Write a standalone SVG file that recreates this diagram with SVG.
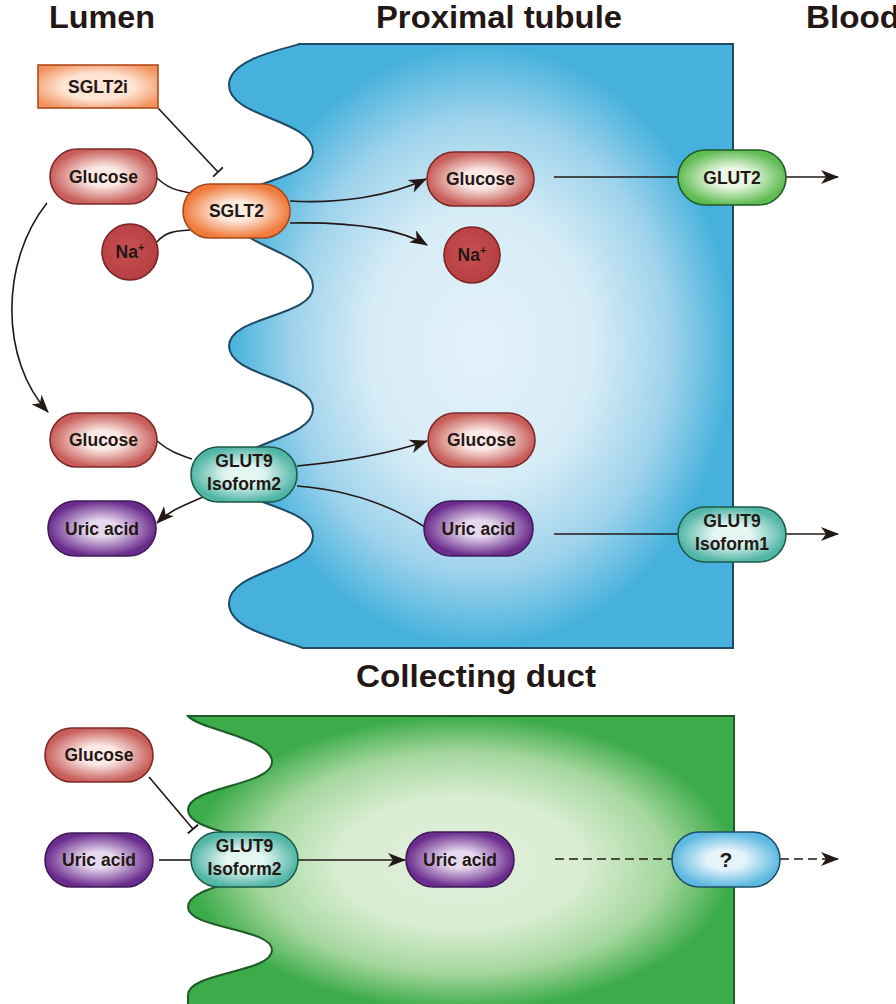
<svg xmlns="http://www.w3.org/2000/svg" width="896" height="1004" viewBox="0 0 896 1004">
<defs>
<style>
.t{font-family:"Liberation Sans",Arial,sans-serif;font-weight:bold;fill:#231815;text-anchor:middle}
.title{font-size:32px}
.lbl{font-size:17.5px}
.ln{fill:none;stroke:#231815;stroke-width:1.6}
.ar{marker-end:url(#ah)}
.tee{marker-end:url(#tb)}
.dash{stroke-dasharray:9 5}
.cell{stroke-width:2}
</style>
<radialGradient id="gBlue" cx="0.5" cy="0.5" r="0.5">
<stop offset="0" stop-color="#e3f1f9"/><stop offset="0.45" stop-color="#d6ecf6"/><stop offset="0.75" stop-color="#9fd3ec"/><stop offset="1" stop-color="#45b1dc"/>
</radialGradient>
<radialGradient id="gGreen" cx="0.5" cy="0.5" r="0.5">
<stop offset="0" stop-color="#e0f0db"/><stop offset="0.45" stop-color="#d8edd1"/><stop offset="0.75" stop-color="#a5d79e"/><stop offset="1" stop-color="#3cab49"/>
</radialGradient>
<radialGradient id="pGlu" cx="0.5" cy="0.5" r="0.5"><stop offset="0.35" stop-color="#fbe9e5"/><stop offset="1" stop-color="#c85e5a"/></radialGradient>
<radialGradient id="pSg" cx="0.5" cy="0.5" r="0.5"><stop offset="0.35" stop-color="#fdeadf"/><stop offset="1" stop-color="#ef7a3a"/></radialGradient>
<radialGradient id="pSgi" cx="0.5" cy="0.5" r="0.6"><stop offset="0.5" stop-color="#fde4d4"/><stop offset="1" stop-color="#f2935d"/></radialGradient>
<radialGradient id="pG9" cx="0.5" cy="0.5" r="0.5"><stop offset="0.35" stop-color="#e4f6f2"/><stop offset="1" stop-color="#52b6a6"/></radialGradient>
<radialGradient id="pG2" cx="0.5" cy="0.5" r="0.5"><stop offset="0.35" stop-color="#ebf7e4"/><stop offset="1" stop-color="#5fbb52"/></radialGradient>
<radialGradient id="pUa" cx="0.5" cy="0.5" r="0.5"><stop offset="0.3" stop-color="#e6d8ee"/><stop offset="1" stop-color="#6b2c8d"/></radialGradient>
<radialGradient id="pQ" cx="0.5" cy="0.5" r="0.5"><stop offset="0.35" stop-color="#e5f3fa"/><stop offset="1" stop-color="#5db9e1"/></radialGradient>
<radialGradient id="pNa" cx="0.45" cy="0.45" r="0.55"><stop offset="0" stop-color="#c85052"/><stop offset="1" stop-color="#b63f42"/></radialGradient>
<marker id="ah" viewBox="0 0 18 14" refX="17" refY="7" markerWidth="18" markerHeight="14" markerUnits="userSpaceOnUse" orient="auto">
<path d="M0,0 L18,7 L0,14 L5,7 Z" fill="#231815"/>
</marker>
<marker id="tb" viewBox="0 0 4 14" refX="2" refY="7" markerWidth="4" markerHeight="14" markerUnits="userSpaceOnUse" orient="auto">
<path d="M2,0 L2,14" stroke="#231815" stroke-width="1.8"/>
</marker>
</defs>
<rect width="896" height="1004" fill="#ffffff"/>

<g id="titles">
<text class="t title" x="102" y="28" textLength="106" lengthAdjust="spacingAndGlyphs">Lumen</text>
<text class="t title" x="499" y="28" textLength="246" lengthAdjust="spacingAndGlyphs">Proximal tubule</text>
<text class="t title" x="853" y="28" textLength="94" lengthAdjust="spacingAndGlyphs">Blood</text>
<text class="t title" x="476" y="687" textLength="240" lengthAdjust="spacingAndGlyphs">Collecting duct</text>
</g>

<g id="proximal-tubule-cell">
<path class="cell" fill="url(#gBlue)" stroke="#1f4a62" d="M300,44 L733,44 L733,648 L303,648 C270,636 229,628 229,603 C229,570 313,569 313,536 C313,505 229,505 229,474 C229,442 313,441 313,409 C313,378 229,377 229,346 C229,316 313,317 313,287 C313,249 229,248 229,210 C229,181 313,181 313,152 C313,119 229,118 229,85 C229,62 270,52 300,44 Z"/>
</g>

<g id="collecting-duct-cell">
<path class="cell" fill="url(#gGreen)" stroke="#1f5a2a" d="M188,716 L734,716 L734,1010 L188,1010 L188,995 C188,972 272,973 272,950 C272,928 188,929 188,907 C188,883 272,882 272,858 C272,834 188,834 188,810 C188,786 272,786 272,762 C272,738 200,730 188,716 Z"/>
</g>

<g id="connectors">
<path class="ln tee" d="M158,108 L218,172"/>
<path class="ln" d="M157,178 C170,190 178,190 190,193"/>
<path class="ln" d="M157,242 C165,232 175,231 190,230"/>
<path class="ln ar" d="M290,201 C340,204 390,196 426,179"/>
<path class="ln ar" d="M290,223 C340,222 395,226 427,245"/>
<path class="ln" d="M554,177 L678,177"/>
<path class="ln ar" d="M786,177 L838,177"/>
<path class="ln ar" d="M47,203 C0,262 0,360 48,412"/>
<path class="ln" d="M157,441 C170,452 180,455 192,459"/>
<path class="ln ar" d="M203,497 C185,505 170,510 157,523"/>
<path class="ln ar" d="M297,466 C340,462 385,455 427,441"/>
<path class="ln" d="M297,486 C350,490 390,505 425,527"/>
<path class="ln" d="M554,534 L678,534"/>
<path class="ln ar" d="M786,534 L838,534"/>
<path class="ln tee" d="M149,777 L193,829"/>
<path class="ln" d="M159,860 L191,860"/>
<path class="ln ar" d="M298,860 L405,860"/>
<path class="ln dash" d="M555,859 L672,859"/>
<path class="ln ar dash" d="M780,859 L838,859"/>
</g>

<g id="sglt2i">
<rect x="38" y="65" width="120" height="43" fill="url(#pSgi)" stroke="#b24a1d" stroke-width="1.6"/>
<text class="t lbl" x="98" y="93">SGLT2i</text>
</g>
<g id="glucose-lumen-1">
<rect x="50" y="149" width="107" height="55" rx="27.5" fill="url(#pGlu)" stroke="#7e2a28" stroke-width="1.6"/>
<text class="t lbl" x="103.5" y="183">Glucose</text>
</g>
<g id="sglt2">
<rect x="183" y="184" width="107" height="54" rx="27" fill="url(#pSg)" stroke="#a8481e" stroke-width="1.6"/>
<text class="t lbl" x="236.5" y="217">SGLT2</text>
</g>
<g id="na-lumen">
<circle cx="130" cy="252" r="28" fill="url(#pNa)" stroke="#7a2224" stroke-width="1.6"/>
<text class="t lbl" x="130" y="258">Na<tspan font-size="11" dy="-7">+</tspan></text>
</g>
<g id="glucose-cell-1">
<rect x="427" y="152" width="107" height="54" rx="27" fill="url(#pGlu)" stroke="#7e2a28" stroke-width="1.6"/>
<text class="t lbl" x="480.5" y="185">Glucose</text>
</g>
<g id="na-cell">
<circle cx="472" cy="255" r="28" fill="url(#pNa)" stroke="#7a2224" stroke-width="1.6"/>
<text class="t lbl" x="472" y="261">Na<tspan font-size="11" dy="-7">+</tspan></text>
</g>
<g id="glut2">
<rect x="678" y="150" width="108" height="55" rx="27.5" fill="url(#pG2)" stroke="#1f5a27" stroke-width="1.6"/>
<text class="t lbl" x="732" y="184">GLUT2</text>
</g>
<g id="glucose-lumen-2">
<rect x="50" y="413" width="107" height="54" rx="27" fill="url(#pGlu)" stroke="#7e2a28" stroke-width="1.6"/>
<text class="t lbl" x="103.5" y="446">Glucose</text>
</g>
<g id="glut9-isoform2-pt">
<rect x="191" y="447" width="106" height="55" rx="27.5" fill="url(#pG9)" stroke="#1c5a47" stroke-width="1.6"/>
<text class="t lbl" x="244" y="467">GLUT9</text>
<text class="t lbl" x="244" y="490">Isoform2</text>
</g>
<g id="uric-acid-lumen">
<rect x="48" y="501" width="108" height="55" rx="27.5" fill="url(#pUa)" stroke="#3f1b57" stroke-width="1.6"/>
<text class="t lbl" x="102" y="535">Uric acid</text>
</g>
<g id="glucose-cell-2">
<rect x="428" y="413" width="107" height="54" rx="27" fill="url(#pGlu)" stroke="#7e2a28" stroke-width="1.6"/>
<text class="t lbl" x="481.5" y="446">Glucose</text>
</g>
<g id="uric-acid-cell">
<rect x="424" y="501" width="109" height="55" rx="27.5" fill="url(#pUa)" stroke="#3f1b57" stroke-width="1.6"/>
<text class="t lbl" x="478.5" y="535">Uric acid</text>
</g>
<g id="glut9-isoform1">
<rect x="678" y="507" width="108" height="55" rx="27.5" fill="url(#pG9)" stroke="#1c5a47" stroke-width="1.6"/>
<text class="t lbl" x="732" y="527">GLUT9</text>
<text class="t lbl" x="732" y="550">Isoform1</text>
</g>

<g id="glucose-cd">
<rect x="45" y="728" width="108" height="54" rx="27" fill="url(#pGlu)" stroke="#7e2a28" stroke-width="1.6"/>
<text class="t lbl" x="99" y="761">Glucose</text>
</g>
<g id="uric-acid-cd-lumen">
<rect x="45" y="833" width="108" height="54" rx="27" fill="url(#pUa)" stroke="#3f1b57" stroke-width="1.6"/>
<text class="t lbl" x="99" y="866">Uric acid</text>
</g>
<g id="glut9-isoform2-cd">
<rect x="191" y="832" width="107" height="55" rx="27.5" fill="url(#pG9)" stroke="#1c5a47" stroke-width="1.6"/>
<text class="t lbl" x="244.5" y="852">GLUT9</text>
<text class="t lbl" x="244.5" y="875">Isoform2</text>
</g>
<g id="uric-acid-cd-cell">
<rect x="406" y="832" width="108" height="55" rx="27.5" fill="url(#pUa)" stroke="#3f1b57" stroke-width="1.6"/>
<text class="t lbl" x="460" y="866">Uric acid</text>
</g>
<g id="unknown-transporter">
<rect x="672" y="832" width="108" height="55" rx="27.5" fill="url(#pQ)" stroke="#1f4d66" stroke-width="1.6"/>
<text class="t" font-size="21" x="726" y="867">?</text>
</g>
</svg>
